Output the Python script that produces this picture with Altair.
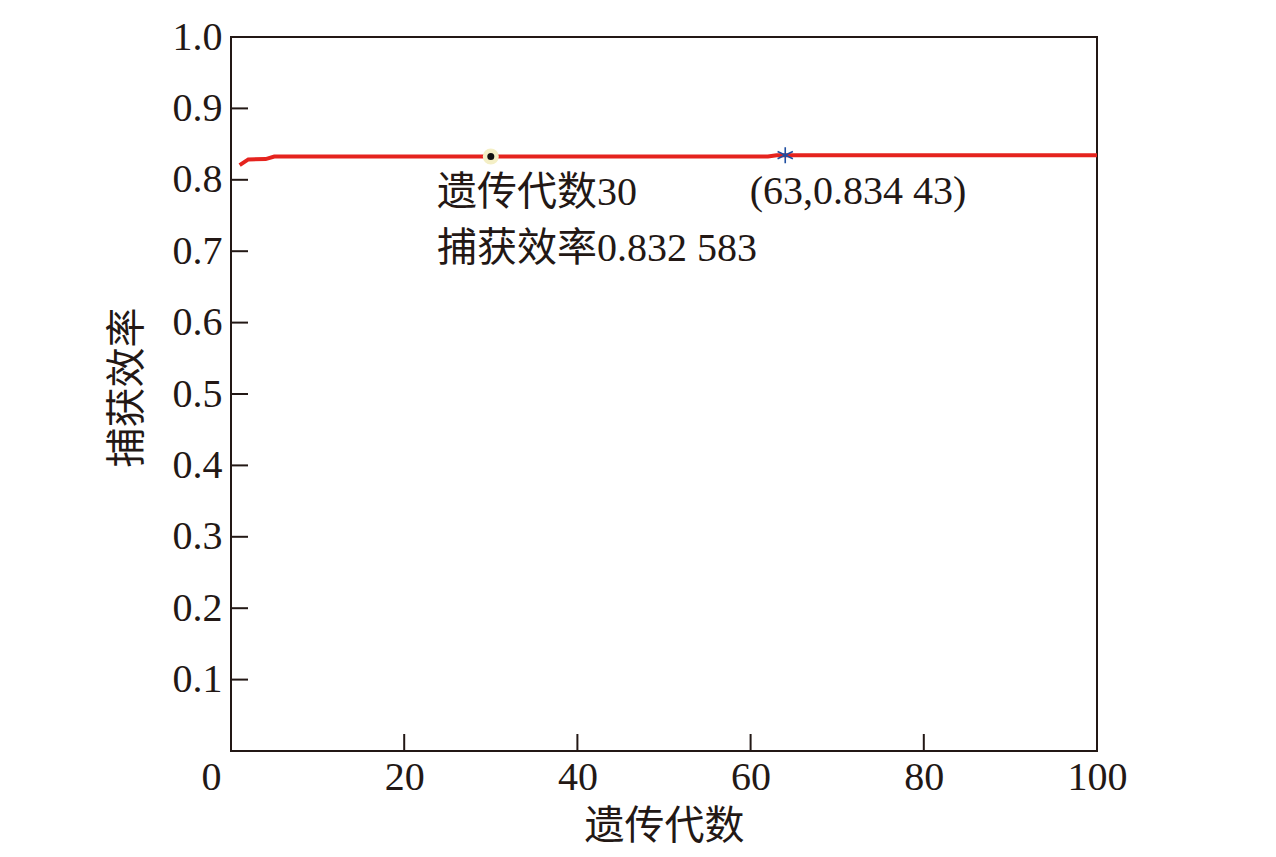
import altair as alt
import pandas as pd

# Line data
gens = [1, 2, 4, 5, 62, 63, 100]
eff = [0.8206, 0.8286, 0.8290, 0.832583, 0.832583, 0.83443, 0.83443]

# Marked points
dot_x = [30]
dot_y = [0.832583]
star_x = [64]
star_y = [0.83443]

# Annotations (data-unit positions)
ann_text = ["遗传代数30", "捕获效率0.832 583", "(63,0.834 43)"]
ann_x = [23.8, 23.8, 59.9]
ann_y = [0.7645, 0.6857, 0.7665]

x_ticks = [0, 20, 40, 60, 80, 100]
y_ticks = [0.1, 0.2, 0.3, 0.4, 0.5, 0.6, 0.7, 0.8, 0.9, 1.0]
x_inner_ticks = [20, 40, 60, 80]

FONT = "'Liberation Serif', 'Noto Sans CJK SC', serif"
INK = "#231815"

line_df = pd.DataFrame({"x": gens, "y": eff})
dot_df = pd.DataFrame({"x": dot_x, "y": dot_y})
star_df = pd.DataFrame({"x": star_x, "y": star_y})
ann_df = pd.DataFrame({"t": ann_text, "x": ann_x, "y": ann_y})
xt_df = pd.DataFrame({"x": x_inner_ticks})
yt_df = pd.DataFrame({"y": y_ticks})

xs = alt.Scale(domain=[0, 100], nice=False, zero=False)
ys = alt.Scale(domain=[0, 1], nice=False, zero=False)

x_axis = alt.Axis(
    values=x_ticks, ticks=False, domain=False, grid=False, labelFlush=False,
    labelFont=FONT, labelFontSize=40, labelColor=INK, labelPadding=6,
    labelOffset={"condition": {"test": "datum.value == 0", "value": -20}, "value": 0},
    title="遗传代数", titleFont=FONT, titleFontSize=40, titleFontWeight="normal",
    titleColor=INK, titleBaseline="middle", titleY=75,
)
y_axis = alt.Axis(
    values=y_ticks, format=".1f", ticks=False, domain=False, grid=False,
    labelFont=FONT, labelFontSize=40, labelColor=INK, labelPadding=9,
    title="捕获效率", titleFont=FONT, titleFontSize=40, titleFontWeight="normal",
    titleColor=INK, titleAngle=-90, titleBaseline="middle", titleAlign="center",
    titleX=-104, titleY=350,
)

line = alt.Chart(line_df).mark_line(color="#e5231e", strokeWidth=4, clip=True).encode(
    x=alt.X("x:Q", scale=xs, axis=x_axis),
    y=alt.Y("y:Q", scale=ys, axis=y_axis),
)

xt = alt.Chart(xt_df).mark_rule(color=INK, strokeWidth=2).encode(
    x=alt.X("x:Q", scale=xs), y=alt.value(714), y2=alt.value(697)
)
yt = alt.Chart(yt_df).mark_rule(color=INK, strokeWidth=2).encode(
    y=alt.Y("y:Q", scale=ys), x=alt.value(0), x2=alt.value(17)
)

dot = alt.Chart(dot_df).mark_point(
    shape="circle", filled=True, fill="#111111", stroke="#f4efc6",
    strokeWidth=4.5, size=133, opacity=1
).encode(x=alt.X("x:Q", scale=xs), y=alt.Y("y:Q", scale=ys))

star = alt.Chart(star_df).mark_point(
    shape="M0,-1L0,1M-0.95,-0.45L0.95,0.45M-0.95,0.45L0.95,-0.45",
    filled=False, stroke="#1f4ea1", strokeWidth=1.6, size=260, opacity=1
).encode(x=alt.X("x:Q", scale=xs), y=alt.Y("y:Q", scale=ys))

ann = alt.Chart(ann_df).mark_text(
    align="left", baseline="alphabetic", font=FONT, fontSize=40, color=INK
).encode(x=alt.X("x:Q", scale=xs), y=alt.Y("y:Q", scale=ys), text="t:N")

chart = alt.layer(line, xt, yt, dot, star, ann).properties(
    width=866, height=714,
    background="white",
    autosize=alt.AutoSizeParams(type="none"),
    padding={"left": 223, "top": 29, "right": 60, "bottom": 98},
).configure_view(stroke=INK, strokeWidth=2)

chart.save("out.html", embed_options={"renderer": "svg", "actions": False})
